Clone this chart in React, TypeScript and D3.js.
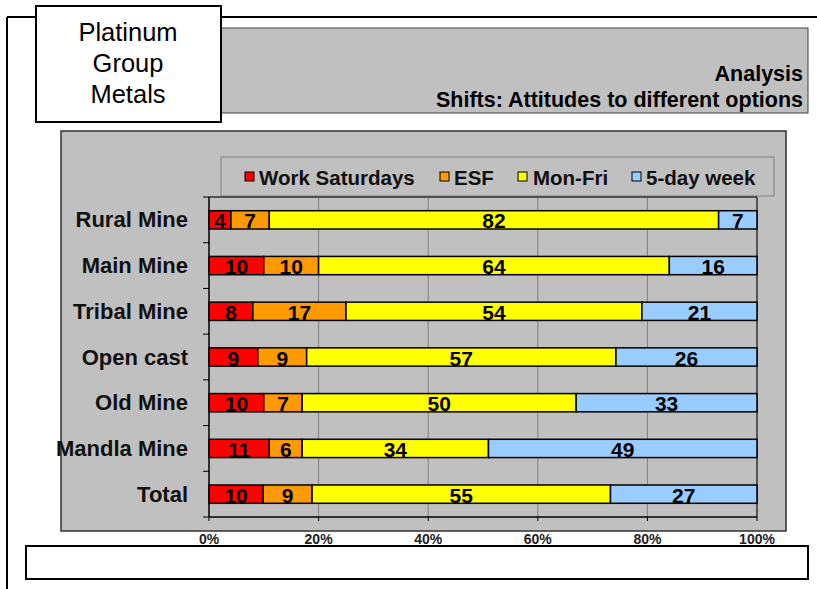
import React from "react";
import * as d3 from "d3";

const categories = ["Rural Mine", "Main Mine", "Tribal Mine", "Open cast", "Old Mine", "Mandla Mine", "Total"];
const seriesNames = ["Work Saturdays", "ESF", "Mon-Fri", "5-day week"];
const workSaturdays = [4, 10, 8, 9, 10, 11, 10];
const esf = [7, 10, 17, 9, 7, 6, 9];
const monFri = [82, 64, 54, 57, 50, 34, 55];
const fiveDayWeek = [7, 16, 21, 26, 33, 49, 27];
const tickValues = [0, 0.2, 0.4, 0.6, 0.8, 1];
const colors = ["#ff0000", "#ff9900", "#ffff00", "#99ccff"];

const W = 817;
const H = 589;
const FONT = "'Liberation Sans', Arial, sans-serif";

export default function App() {
  const seriesValues = [workSaturdays, esf, monFri, fiveDayWeek];
  const rows = categories.map((c, i) => {
    const r: any = { cat: c };
    seriesNames.forEach((s, j) => (r[s] = seriesValues[j][i]));
    return r;
  });
  const stack = d3.stack<any>().keys(seriesNames).offset(d3.stackOffsetExpand);
  const stacked = stack(rows);

  const plot = { x0: 209, x1: 757, y0: 197, y1: 517 };
  const x = d3.scaleLinear().domain([0, 1]).range([plot.x0, plot.x1]);
  const y = d3.scaleBand().domain(categories).range([plot.y0, plot.y1]).paddingInner(0.6).paddingOuter(0.3);
  const step = y.step();
  const fmt = d3.format(".0%");

  const legendItems = [
    { sq: 245, tx: 259 },
    { sq: 440, tx: 454 },
    { sq: 518, tx: 533 },
    { sq: 632, tx: 646 },
  ];

  return (
    <svg width={W} height={H} style={{ position: "absolute", left: 0, top: 0 }} fontFamily={FONT}>
      <rect x={0} y={0} width={W} height={H} fill="#ffffff" />
      {/* outer frame */}
      <line x1={7} y1={17} x2={W} y2={17} stroke="#000" strokeWidth={2} />
      <line x1={7} y1={17} x2={7} y2={H} stroke="#000" strokeWidth={2} />
      {/* header banner */}
      <rect x={221} y={28} width={587} height={85} fill="#c0c0c0" stroke="#404040" strokeWidth={1} />
      <text x={803} y={81} textAnchor="end" fontSize={21.5} fontWeight="bold" fill="#000">Analysis</text>
      <text x={803} y={107} textAnchor="end" fontSize={21.5} fontWeight="bold" fill="#000">Shifts: Attitudes to different options</text>
      {/* title box */}
      <rect x={36} y={6} width={185} height={116} fill="#fff" stroke="#000" strokeWidth={2} />
      {["Platinum", "Group", "Metals"].map((t, i) => (
        <text key={t} x={128} y={41 + i * 31} textAnchor="middle" fontSize={25.5} fill="#000">{t}</text>
      ))}
      {/* chart panel */}
      <rect x={61} y={131} width={725} height={400} fill="#c0c0c0" stroke="#303030" strokeWidth={1.5} />
      {/* legend */}
      <rect x={221} y={157} width={553} height={39} fill="#c0c0c0" stroke="#808080" strokeWidth={1} />
      {seriesNames.map((s, i) => (
        <g key={s}>
          <rect x={legendItems[i].sq} y={172} width={9} height={9} fill={colors[i]} stroke="#000" strokeWidth={1} />
          <text x={legendItems[i].tx} y={177} dominantBaseline="central" fontSize={20.5} fontWeight="bold" fill="#111">{s}</text>
        </g>
      ))}
      {/* gridlines */}
      {tickValues.slice(1, -1).map((t) => (
        <line key={t} x1={x(t)} x2={x(t)} y1={plot.y0} y2={plot.y1} stroke="#808080" strokeWidth={1} />
      ))}
      {/* plot border */}
      <line x1={plot.x0} x2={plot.x1} y1={plot.y0} y2={plot.y0} stroke="#303030" strokeWidth={1.5} />
      <line x1={plot.x1} x2={plot.x1} y1={plot.y0} y2={plot.y1} stroke="#303030" strokeWidth={1.5} />
      {/* bars */}
      {stacked.map((layer, j) => (
        <g key={layer.key}>
          {layer.map((d, i) => {
            const cat = categories[i];
            const bx = x(d[0]);
            const bw = x(d[1]) - x(d[0]);
            const by = y(cat)!;
            return (
              <g key={cat}>
                <rect x={bx} y={by} width={bw} height={y.bandwidth()} fill={colors[j]} stroke="#000" strokeWidth={1.5} />
                <text x={bx + bw / 2} y={by + y.bandwidth() / 2 + 1} textAnchor="middle" dominantBaseline="central" fontSize={21} fontWeight="bold" fill="#000">
                  {seriesValues[j][i]}
                </text>
              </g>
            );
          })}
        </g>
      ))}
      {/* axes */}
      <line x1={plot.x0} x2={plot.x0} y1={plot.y0} y2={plot.y1} stroke="#000" strokeWidth={1.5} />
      <line x1={plot.x0} x2={plot.x1} y1={plot.y1} y2={plot.y1} stroke="#000" strokeWidth={1.5} />
      {d3.range(categories.length + 1).map((i) => (
        <line key={i} x1={plot.x0 - 6} x2={plot.x0} y1={plot.y0 + i * step} y2={plot.y0 + i * step} stroke="#000" strokeWidth={1} />
      ))}
      {tickValues.map((t) => (
        <g key={t}>
          <line x1={x(t)} x2={x(t)} y1={plot.y1} y2={plot.y1 + 4} stroke="#000" strokeWidth={1} />
          <text x={x(t)} y={539} textAnchor="middle" dominantBaseline="central" fontSize={14} fontWeight="bold" fill="#222">{fmt(t)}</text>
        </g>
      ))}
      {categories.map((c) => (
        <text key={c} x={188} y={y(c)! + y.bandwidth() / 2} textAnchor="end" dominantBaseline="central" fontSize={22} fontWeight="bold" fill="#111">{c}</text>
      ))}
      {/* bottom box */}
      <rect x={26} y={546} width={782} height={33} fill="#fff" stroke="#000" strokeWidth={2} />
    </svg>
  );
}
